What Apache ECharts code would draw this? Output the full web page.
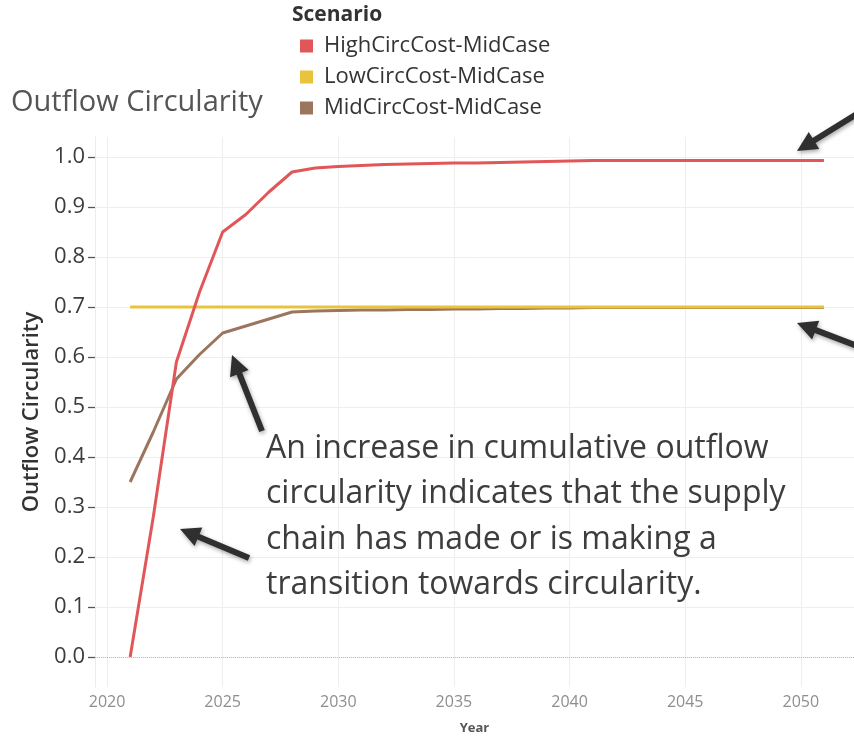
<!DOCTYPE html>
<html>
<head>
<meta charset="utf-8">
<script src="https://cdn.jsdelivr.net/npm/echarts@6/dist/echarts.min.js"></script>
<style>
  html, body { margin: 0; padding: 0; background: #ffffff; }
  #chart { width: 854px; height: 736px; }
</style>
</head>
<body>
<div id="chart"></div>
<script>
// Scenario years and outflow circularity per scenario
const years = [2021, 2022, 2023, 2024, 2025, 2026, 2027, 2028, 2029, 2030,
               2031, 2032, 2033, 2034, 2035, 2036, 2037, 2038, 2039, 2040,
               2041, 2042, 2043, 2044, 2045, 2046, 2047, 2048, 2049, 2050, 2051];

const highCirc = [0.00, 0.28, 0.59, 0.73, 0.85, 0.885, 0.93, 0.97, 0.978, 0.981,
                  0.983, 0.985, 0.986, 0.987, 0.988, 0.988, 0.989, 0.990, 0.991, 0.992,
                  0.993, 0.993, 0.993, 0.993, 0.993, 0.993, 0.993, 0.993, 0.993, 0.993, 0.993];

const lowCirc = [0.70, 0.70, 0.70, 0.70, 0.70, 0.70, 0.70, 0.70, 0.70, 0.70,
                 0.70, 0.70, 0.70, 0.70, 0.70, 0.70, 0.70, 0.70, 0.70, 0.70,
                 0.70, 0.70, 0.70, 0.70, 0.70, 0.70, 0.70, 0.70, 0.70, 0.70, 0.70];

const midCirc = [0.35, 0.45, 0.556, 0.605, 0.648, 0.662, 0.676, 0.690, 0.692, 0.693,
                 0.694, 0.694, 0.695, 0.695, 0.696, 0.696, 0.697, 0.697, 0.698, 0.698,
                 0.699, 0.699, 0.699, 0.699, 0.699, 0.699, 0.699, 0.699, 0.699, 0.699, 0.699];

const scenarioNames = ['HighCircCost-MidCase', 'LowCircCost-MidCase', 'MidCircCost-MidCase'];
const xTicks = [2020, 2025, 2030, 2035, 2040, 2045, 2050];
const yTicks = [0, 0.1, 0.2, 0.3, 0.4, 0.5, 0.6, 0.7, 0.8, 0.9, 1.0];

const noteLines = [
  'An increase in cumulative outflow',
  'circularity indicates that the supply',
  'chain has made or is making a',
  'transition towards circularity.'
];

const chart = echarts.init(document.getElementById('chart'), null, { renderer: 'canvas' });

function pairs(values) {
  return years.map(function (y, i) { return [y, values[i]]; });
}

// Thick call-out arrow from tail to tip (pixel space)
function arrow(tail, tip) {
  const dx = tip[0] - tail[0], dy = tip[1] - tail[1];
  const len = Math.hypot(dx, dy);
  const ux = dx / len, uy = dy / len;
  const px = -uy, py = ux;
  const headLen = 20, headHalf = 10, shaftHalf = 3;
  const bx = tip[0] - ux * headLen, by = tip[1] - uy * headLen;
  return {
    type: 'polygon',
    z: 100,
    silent: true,
    shape: {
      points: [
        [tail[0] + px * shaftHalf, tail[1] + py * shaftHalf],
        [bx + px * shaftHalf, by + py * shaftHalf],
        [bx + px * headHalf, by + py * headHalf],
        [tip[0], tip[1]],
        [bx - px * headHalf, by - py * headHalf],
        [bx - px * shaftHalf, by - py * shaftHalf],
        [tail[0] - px * shaftHalf, tail[1] - py * shaftHalf]
      ]
    },
    style: {
      fill: '#2f2f2f',
      shadowBlur: 4,
      shadowColor: 'rgba(0,0,0,0.35)',
      shadowOffsetX: 1,
      shadowOffsetY: 2
    }
  };
}

const option = {
  backgroundColor: '#ffffff',
  animation: false,
  textStyle: { fontFamily: 'Open Sans' },
  title: [
    {
      text: 'Outflow Circularity',
      left: 6, top: 83,
      textStyle: { fontSize: 29, fontWeight: 'normal', color: '#555555', fontFamily: 'Open Sans' }
    },
    {
      text: 'Scenario',
      left: 287, top: 0,
      textStyle: { fontSize: 21, fontWeight: 'bold', color: '#333333', fontFamily: 'Open Sans' }
    }
  ],
  legend: {
    data: scenarioNames,
    orient: 'vertical',
    left: 295, top: 30,
    icon: 'rect',
    itemWidth: 13, itemHeight: 13, itemGap: 9,
    selectedMode: false,
    textStyle: { fontSize: 22, lineHeight: 22, color: '#333333', fontFamily: 'Open Sans', padding: [0, 0, 0, 6] }
  },
  grid: {
    left: 95, right: 0, top: 137, bottom: 49,
    containLabel: false,
    outerBoundsMode: 'none'
  },
  xAxis: {
    type: 'value',
    min: 2019.48, max: 2052.3,
    name: 'Year',
    nameLocation: 'middle',
    nameGap: 35,
    nameTextStyle: { fontSize: 13, fontWeight: 'bold', color: '#555555', fontFamily: 'Open Sans' },
    axisLine: { show: false },
    axisTick: { show: false, customValues: xTicks },
    axisLabel: {
      customValues: xTicks,
      color: '#8e8e8e', fontSize: 16, margin: 7,
      formatter: function (v) { return String(v); }
    },
    splitLine: { show: true, lineStyle: { color: '#eeeeee', width: 1 } }
  },
  yAxis: {
    type: 'value',
    min: -0.06, max: 1.04,
    name: 'Outflow Circularity',
    nameLocation: 'middle',
    nameGap: 48,
    nameTextStyle: { fontSize: 22, fontWeight: 600, color: '#333333', fontFamily: 'Open Sans' },
    axisLine: { show: true, lineStyle: { color: '#ececec' } },
    axisTick: { show: true, customValues: yTicks, length: 7, lineStyle: { color: '#555555', width: 1.3 } },
    axisLabel: {
      customValues: yTicks,
      color: '#3c3c3c', fontSize: 22, margin: 10,
      formatter: function (v) { return v.toFixed(1); }
    },
    splitLine: { show: true, lineStyle: { color: '#eeeeee', width: 1 } }
  },
  series: [
    {
      name: scenarioNames[2], type: 'line', data: pairs(midCirc),
      color: '#9c755f', showSymbol: false, lineStyle: { width: 3 }, z: 2
    },
    {
      name: scenarioNames[1], type: 'line', data: pairs(lowCirc),
      color: '#e9c33b', showSymbol: false, lineStyle: { width: 3 }, z: 3,
      markLine: {
        silent: true, symbol: ['none', 'none'], label: { show: false },
        lineStyle: { type: 'dotted', color: '#bdbdbd', width: 1 },
        data: [{ yAxis: 0 }]
      }
    },
    {
      name: scenarioNames[0], type: 'line', data: pairs(highCirc),
      color: '#e15759', showSymbol: false, lineStyle: { width: 3 }, z: 4
    }
  ],
  graphic: [
    {
      type: 'text', left: 266, top: 426, z: 100, silent: true,
      style: {
        text: noteLines.join('\n'),
        fontFamily: 'Open Sans', fontSize: 32, lineHeight: 45.5,
        fill: '#3d3d3d'
      }
    },
    arrow([860, 112], [797, 151]),
    arrow([860, 347], [797, 323]),
    arrow([262, 431], [232, 355]),
    arrow([249, 558], [180, 529])
  ]
};

chart.setOption(option);
</script>
</body>
</html>
